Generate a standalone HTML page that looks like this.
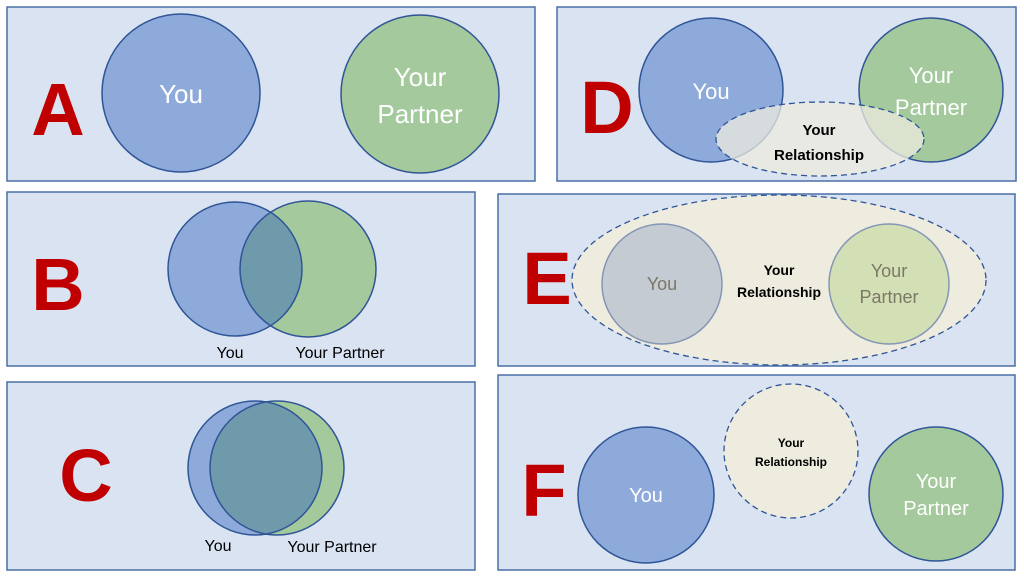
<!DOCTYPE html>
<html><head><meta charset="utf-8"><style>
body{margin:0;background:#fff}
svg{display:block}
text{font-family:"Liberation Sans",sans-serif}
</style></head><body>
<svg width="1024" height="578" viewBox="0 0 1024 578" xmlns="http://www.w3.org/2000/svg">
<defs>
<clipPath id="cb"><circle cx="308" cy="269" r="68"/></clipPath>
<clipPath id="cc"><circle cx="277" cy="468" r="67"/></clipPath>
</defs>
<g fill="#dae3f1" stroke="#4a6fa5" stroke-width="1.5">
<rect x="7" y="7" width="528" height="174"/>
<rect x="557" y="7" width="459" height="174"/>
<rect x="7" y="192" width="468" height="174"/>
<rect x="498" y="194" width="517" height="172"/>
<rect x="7" y="382" width="468" height="188"/>
<rect x="498" y="375" width="517" height="195"/>
</g>
<g fill="#c00000" font-weight="bold" font-size="74" text-anchor="middle">
<text x="58" y="135">A</text>
<text x="607" y="133">D</text>
<text x="58" y="310">B</text>
<text x="547" y="304">E</text>
<text x="86" y="501">C</text>
<text x="544" y="516">F</text>
</g>
<!-- A -->
<circle cx="181" cy="93" r="79" fill="#8eaadb" stroke="#2f5597" stroke-width="1.5"/>
<circle cx="420" cy="94" r="79" fill="#a3c99d" stroke="#2f5597" stroke-width="1.5"/>
<g fill="#fff" font-size="26" text-anchor="middle">
<text x="181" y="103">You</text>
<text x="420" y="86">Your</text>
<text x="420" y="123">Partner</text>
</g>
<!-- B -->
<circle cx="235" cy="269" r="67" fill="#8eaadb"/>
<circle cx="308" cy="269" r="68" fill="#a3c99d"/>
<circle cx="235" cy="269" r="67" fill="#6f9aab" clip-path="url(#cb)"/>
<circle cx="235" cy="269" r="67" fill="none" stroke="#2f5597" stroke-width="1.5"/>
<circle cx="308" cy="269" r="68" fill="none" stroke="#2f5597" stroke-width="1.5"/>
<g font-size="16" fill="#000" text-anchor="middle">
<text x="230" y="358">You</text>
<text x="340" y="358">Your Partner</text>
</g>
<!-- C -->
<circle cx="255" cy="468" r="67" fill="#8eaadb"/>
<circle cx="277" cy="468" r="67" fill="#a3c99d"/>
<circle cx="255" cy="468" r="67" fill="#6f9aab" clip-path="url(#cc)"/>
<circle cx="255" cy="468" r="67" fill="none" stroke="#2f5597" stroke-width="1.5"/>
<circle cx="277" cy="468" r="67" fill="none" stroke="#2f5597" stroke-width="1.5"/>
<g font-size="16" fill="#000" text-anchor="middle">
<text x="218" y="551">You</text>
<text x="332" y="552">Your Partner</text>
</g>
<!-- D -->
<circle cx="711" cy="90" r="72" fill="#8eaadb" stroke="#2f5597" stroke-width="1.5"/>
<circle cx="931" cy="90" r="72" fill="#a3c99d" stroke="#2f5597" stroke-width="1.5"/>
<ellipse cx="820" cy="139" rx="104" ry="37" fill="#eeebdf" fill-opacity="0.75" stroke="#2f5597" stroke-width="1.3" stroke-dasharray="6,4"/>
<g fill="#fff" font-size="22" text-anchor="middle">
<text x="711" y="99">You</text>
<text x="931" y="83">Your</text>
<text x="931" y="115">Partner</text>
</g>
<g fill="#000" font-size="15" font-weight="bold" text-anchor="middle">
<text x="819" y="135">Your</text>
<text x="819" y="160">Relationship</text>
</g>
<!-- E -->
<ellipse cx="779" cy="280" rx="207" ry="85" fill="#eeebdf" stroke="#2f5597" stroke-width="1.3" stroke-dasharray="6,4"/>
<circle cx="662" cy="284" r="60" fill="#c5cbd2" stroke="#8597b5" stroke-width="1.5"/>
<circle cx="889" cy="284" r="60" fill="#d3dfb5" stroke="#8597b5" stroke-width="1.5"/>
<g fill="#7b7867" font-size="18" text-anchor="middle">
<text x="662" y="290">You</text>
<text x="889" y="277">Your</text>
<text x="889" y="303">Partner</text>
</g>
<g fill="#000" font-size="14" font-weight="bold" text-anchor="middle">
<text x="779" y="275">Your</text>
<text x="779" y="297">Relationship</text>
</g>
<!-- F -->
<circle cx="646" cy="495" r="68" fill="#8eaadb" stroke="#2f5597" stroke-width="1.5"/>
<circle cx="791" cy="451" r="67" fill="#eeebdf" stroke="#2f5597" stroke-width="1.3" stroke-dasharray="6,4"/>
<circle cx="936" cy="494" r="67" fill="#a3c99d" stroke="#2f5597" stroke-width="1.5"/>
<g fill="#fff" font-size="20" text-anchor="middle">
<text x="646" y="502">You</text>
<text x="936" y="488">Your</text>
<text x="936" y="515">Partner</text>
</g>
<g fill="#000" font-size="12" font-weight="bold" text-anchor="middle">
<text x="791" y="447">Your</text>
<text x="791" y="466">Relationship</text>
</g>
</svg>
</body></html>
